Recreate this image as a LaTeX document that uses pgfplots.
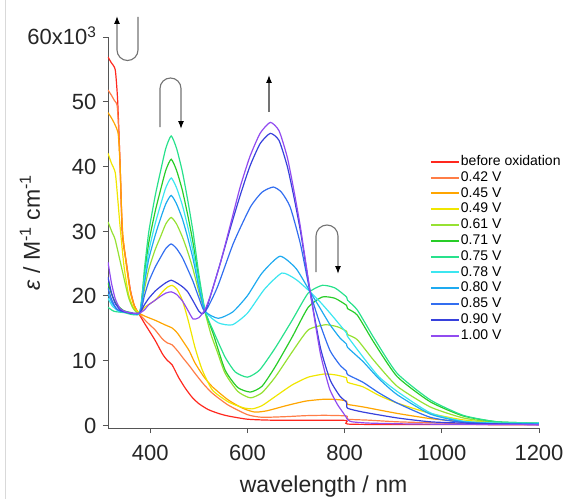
\documentclass[border=0pt]{standalone}
\usepackage{fontspec}
\setmainfont{Liberation Sans}
\usepackage{pgfplots}
\pgfplotsset{compat=1.18}
\usetikzlibrary{arrows.meta,calc}
\definecolor{c00}{RGB}{255,40,30}
\definecolor{c42}{RGB}{255,125,70}
\definecolor{c45}{RGB}{255,165,0}
\definecolor{c49}{RGB}{240,230,0}
\definecolor{c61}{RGB}{150,225,50}
\definecolor{c71}{RGB}{40,205,40}
\definecolor{c75}{RGB}{40,225,140}
\definecolor{c78}{RGB}{60,230,240}
\definecolor{c80}{RGB}{30,170,240}
\definecolor{c85}{RGB}{50,110,240}
\definecolor{c90}{RGB}{55,65,220}
\definecolor{c100}{RGB}{145,75,240}
\definecolor{axgray}{RGB}{85,85,85}
\begin{document}
\begin{tikzpicture}
\begin{axis}[
  name=ax, at={(0,0)}, anchor=south west,
  scale only axis, width=431pt, height=391pt,
  xmin=313, xmax=1200, ymin=-0.46, ymax=60,
  axis lines*=left, tick align=outside, major tick length=5pt,
  axis line style={draw=axgray, line width=0.8pt},
  tick style={draw=axgray, line width=0.8pt},
  xtick={400,600,800,1000,1200},
  xticklabels={400,600,800,1000,1200},
  ytick={0,10,20,30,40,50,60},
  yticklabels={},
  ticklabel style={font=\fontsize{22}{24}\selectfont, text=black!85},
  xticklabel style={anchor=base, yshift=-27pt},
  xlabel={wavelength / nm},
  ylabel={\textit{ε} / M\textsuperscript{-1} cm\textsuperscript{-1}},
  label style={font=\fontsize{23}{25}\selectfont, text=black!85},
  xlabel style={at={(rel axis cs:0.5,0)}, anchor=base, yshift=-64pt},
  ylabel style={at={(rel axis cs:0,0.5)}, anchor=center, yshift=78pt},
  legend style={draw=none, fill=none, inner sep=0pt, outer sep=0pt,
    at={(0.747,0.701)}, anchor=north west,
    font=\fontsize{14}{15}\selectfont,
    nodes={inner sep=1pt, text height=10.5pt, text depth=3.3pt},
    /tikz/every even column/.append style={column sep=5pt}},
  legend cell align=left,
  legend image code/.code={\draw[#1, line width=2pt] (0pt,0pt) -- (28pt,0pt);},
  every axis plot/.append style={line width=1.2pt, smooth, tension=0.35},
]
% before oxidation
\addplot[c00] coordinates {(313,56.9)(320,56.0)(328,54.9)(333,50)(338,40)(342,30.1)(346,27.3)(351,25)(359,20.9)(367,18.5)(375,17.4)(390,15.5)(410,13.1)(425,11.0)(435,10.0)(445,9.3)(458,7.4)(472,5.7)(486,4.3)(500,3.3)(519,2.4)(540,1.8)(560,1.4)(600,0.9)(650,0.75)(750,0.75)(804,0.7)(806,0.15)(900,0.08)(1200,0.05)};
\addlegendentry{before oxidation}
% 0.42 V
\addplot[c42] coordinates {(313,51.8)(320,51)(326,50.2)(332,49.3)(336,44)(340,35)(343,29.5)(351,25)(359,20.8)(367,18.5)(375,17.4)(392,16)(410,14.7)(425,13.3)(435,12.7)(445,12.4)(458,11.3)(466,10.5)(480,9.2)(492,8)(510,6.3)(528,4.9)(560,3.1)(600,1.6)(630,1.2)(680,1.3)(720,1.45)(760,1.5)(804,1.4)(806,0.9)(850,0.75)(908,0.5)(1000,0.3)(1100,0.15)(1200,0.1)};
\addlegendentry{0.42 V}
% 0.45 V
\addplot[c45] coordinates {(313,48.3)(320,47.5)(327,46.5)(334,45)(338,40)(341,33)(344,29)(351,24.5)(359,20.5)(367,18.4)(375,17.4)(390,16.8)(410,16.2)(430,15.5)(445,15)(456,14.2)(466,13.1)(480,11.5)(492,9.6)(510,7.5)(528,5.9)(560,3.9)(590,2.6)(615,2.0)(640,2.2)(680,3.0)(720,3.7)(760,4.0)(790,3.9)(804,3.7)(806,3.2)(838,2.8)(908,1.8)(976,1.0)(1044,0.5)(1120,0.2)(1200,0.1)};
\addlegendentry{0.45 V}
% 0.49 V
\addplot[c49] coordinates {(313,42)(320,40.5)(328,39)(333,35)(338,30.6)(346,24.5)(355,20.3)(365,18.2)(378,17.4)(390,18.3)(410,19.3)(425,20.6)(435,21.3)(445,21.6)(455,21)(466,19.3)(478,16.2)(492,12)(507,8.5)(528,5.4)(560,3.6)(590,2.7)(610,2.5)(630,3.0)(657,4.4)(692,6.2)(725,7.4)(760,7.9)(785,7.7)(804,7.3)(806,6.6)(838,5.9)(870,4.6)(908,3.4)(976,1.8)(1044,0.8)(1120,0.3)(1200,0.1)};
\addlegendentry{0.49 V}
% 0.61 V
\addplot[c61] coordinates {(313,31.4)(322,29.7)(328,28.6)(342,24)(355,19.8)(365,18)(378,17.3)(388,21.0)(397,24.1)(410,27.1)(421,29.1)(432,31.1)(443,32.1)(454,31.1)(466,29.1)(477,26.8)(488,24.1)(500,20.6)(513,17.3)(525,14)(538,11.3)(554,8)(580,5.2)(606,4.2)(630,5)(657,7.4)(692,11.3)(725,14.7)(760,15.5)(785,15.2)(804,14.5)(806,14)(826,13.2)(860,10)(908,6)(976,2.8)(1044,1.1)(1114,0.4)(1200,0.2)};
\addlegendentry{0.61 V}
% 0.71 V
\addplot[c71] coordinates {(313,22)(320,20.3)(330,18.7)(345,17.7)(360,17.4)(378,17.3)(388,23.25)(397,28.25)(410,33.0)(421,36.3)(432,39.4)(443,41.1)(454,39.4)(466,36.3)(477,32.5)(488,28.2)(500,22.5)(513,17.6)(530,14)(554,8.5)(580,5.8)(606,5.1)(630,6)(657,9)(692,13.6)(725,18.2)(754,19.8)(780,19.6)(804,18.5)(806,18)(826,17)(860,12.8)(908,7.5)(976,3.6)(1044,1.4)(1114,0.5)(1200,0.3)};
\addlegendentry{0.71 V}
% 0.75 V
\addplot[c75] coordinates {(313,18.2)(325,17.6)(345,17.4)(378,17.3)(388,24.15)(397,29.9)(410,35.4)(421,39.2)(432,42.8)(443,44.7)(454,42.8)(466,39.2)(477,34.8)(488,29.9)(500,23.3)(513,17.6)(530,14.5)(554,10.5)(575,8.2)(600,7.4)(625,8.5)(657,11.9)(692,16.2)(725,20.4)(754,21.6)(780,21.2)(804,19.8)(806,19.3)(826,17.8)(860,13.5)(908,8)(976,3.9)(1044,1.5)(1114,0.5)(1200,0.3)};
\addlegendentry{0.75 V}
% 0.78 V
\addplot[c78] coordinates {(313,19.6)(322,18.4)(335,17.6)(355,17.4)(378,17.3)(388,22.5)(397,26.9)(410,31.1)(421,34.0)(432,36.7)(443,38.2)(454,36.7)(466,34.0)(477,30.7)(488,26.9)(500,21.9)(513,17.6)(540,15.8)(569,15.5)(600,17.3)(635,21)(671,23.5)(700,22.5)(729,20.6)(750,19)(770,17.3)(790,15.5)(804,14.2)(806,13.7)(838,10.5)(870,7.5)(908,5.2)(976,1.9)(1044,0.6)(1120,0.3)(1200,0.3)};
\addlegendentry{0.78 V}
% 0.80 V
\addplot[c80] coordinates {(313,20.3)(322,18.8)(335,17.7)(355,17.4)(378,17.3)(388,21.9)(397,25.7)(410,29.3)(421,31.9)(432,34.2)(443,35.5)(454,34.2)(466,31.9)(477,29.0)(488,25.7)(500,21.3)(513,17.6)(540,16.5)(570,17.5)(600,20)(630,23.5)(667,26.1)(700,24.2)(729,20.6)(750,18)(770,15.5)(790,13.5)(804,12.5)(806,12)(838,9.8)(870,7.2)(908,4.7)(976,1.7)(1044,0.5)(1120,0.2)(1200,0.2)};
\addlegendentry{0.80 V}
% 0.85 V
\addplot[c85] coordinates {(313,21.2)(320,19.5)(330,18)(345,17.5)(378,17.3)(388,20.0)(397,22.2)(410,24.4)(421,25.9)(432,27.3)(443,28)(454,27.3)(466,25.9)(477,24.1)(488,22.2)(500,19.7)(513,17.6)(538,21.3)(571,28.1)(606,33.7)(630,36)(653,36.8)(670,36)(688,33.7)(709,28)(729,20.6)(750,15.5)(770,11.5)(790,9.3)(804,8.3)(806,7.8)(838,6.6)(870,5)(908,3.4)(976,1.2)(1044,0.4)(1120,0.15)(1200,0.1)};
\addlegendentry{0.85 V}
% 0.90 V
\addplot[c90] coordinates {(313,22.9)(320,20.5)(328,18.8)(340,17.7)(360,17.3)(378,17.3)(388,18.6)(397,19.6)(410,20.7)(421,21.4)(432,22.0)(443,22.4)(454,22.0)(466,21.4)(477,20.6)(488,19.2)(500,17.6)(507,17.2)(513,17.6)(520,19)(544,25)(565,30.5)(585,35.5)(605,40)(626,43.5)(647,45.1)(665,44)(682,40)(695,35.5)(709,30)(729,20.6)(750,12)(770,7)(790,4.5)(804,3.5)(806,2.6)(838,2)(908,1.1)(976,0.5)(1044,0.3)(1200,0.05)};
\addlegendentry{0.90 V}
% 1.00 V
\addplot[c100] coordinates {(313,25.2)(320,22)(328,19.5)(338,18)(350,17.5)(365,17.3)(378,17.3)(388,17.8)(397,18.6)(410,19.3)(421,19.9)(432,20.4)(443,20.6)(454,20.2)(466,19.2)(477,17.8)(488,16.4)(500,16.6)(513,17.9)(525,20.3)(544,25)(565,31)(585,36.8)(605,41.5)(626,45.1)(647,46.8)(665,45.5)(682,41.4)(695,36.5)(709,30.6)(729,20.6)(740,15.5)(750,11.1)(760,8)(770,5.4)(785,3.2)(797,1.9)(807,0.8)(815,0.5)(850,0.3)(950,0.15)(1200,0.05)};
\addlegendentry{1.00 V}
\end{axis}
% annotations and y tick labels, in picture pixels (origin top left, y down)
\begin{scope}[shift={($(ax.south west)+(-108pt,428pt)$)}, x=1pt, y=-1pt,
  line width=1.1pt, draw=black!55]
  \draw[black!15, line width=0.8pt] (5,0) -- (5,499);
  \begin{scope}[every node/.style={anchor=base east, inner sep=0pt,
      font=\fontsize{22}{24}\selectfont, text=black!85}]
    \node at (97,433.0) {0};
    \node at (97,368.4) {10};
    \node at (97,303.7) {20};
    \node at (97,239.0) {30};
    \node at (97,174.4) {40};
    \node at (97,109.7) {50};
    \node at (97,45.0) {60x10\textsuperscript{3}};
  \end{scope}
  \draw[-{Latex[length=8pt,width=6pt,color=black]}] (138,17) -- (138,50)
    arc[start angle=0, end angle=180, radius=10.5] -- (117,16);
  \draw[-{Latex[length=8pt,width=6pt,color=black]}] (160,127) -- (160,88.5)
    arc[start angle=180, end angle=360, radius=10.5] -- (181,129);
  \draw[-{Latex[length=8pt,width=6pt,color=black]}] (269,112) -- (269,75);
  \draw[-{Latex[length=8pt,width=6pt,color=black]}] (316,272) -- (316,236)
    arc[start angle=180, end angle=360, radius=11] -- (338,274);
\end{scope}
\pgfresetboundingbox
\path[use as bounding box] ($(ax.south west)+(-108pt,-71pt)$) rectangle ($(ax.south west)+(462pt,428pt)$);
\end{tikzpicture}
\end{document}
